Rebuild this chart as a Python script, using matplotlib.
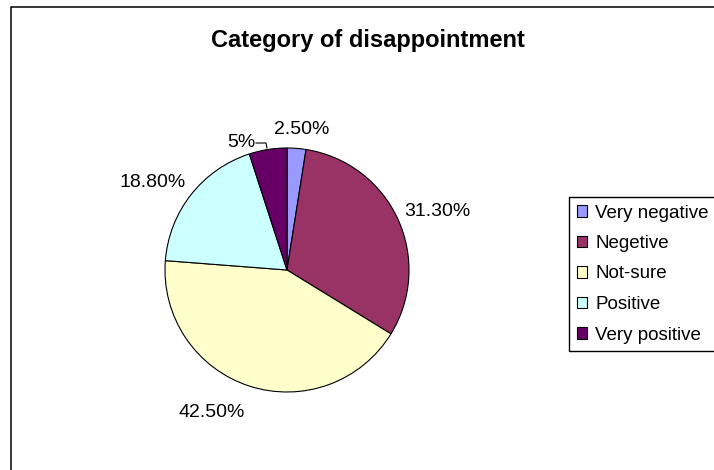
import matplotlib
matplotlib.use("Agg")
import matplotlib.pyplot as plt
from matplotlib.patches import Rectangle

# Data
categories = ["Very negative", "Negetive", "Not-sure", "Positive", "Very positive"]
shares = [2.5, 31.3, 42.5, 18.8, 5.0]
share_labels = ["2.50%", "31.30%", "42.50%", "18.80%", "5%"]
colors = ["#9999FF", "#993366", "#FFFFCC", "#CCFFFF", "#660066"]

# Label baseline positions (pie radius units) - layout only
label_pos = [(0.12, 1.115), (1.23, 0.443), (-0.615, -1.207), (-1.103, 0.678), (-0.377, 1.011)]

plt.rcParams["font.family"] = ["Liberation Sans", "DejaVu Sans"]

W, H = 714, 470
fig = plt.figure(figsize=(W / 100, H / 100), dpi=100)
fig.set_facecolor("white")

# outer chart frame (right/bottom edges fall outside the picture)
fig.add_artist(Rectangle((11 / W, -0.1), 1.2, 1 - 6.5 / H + 0.1, fill=False,
                         edgecolor="black", linewidth=1.1, transform=fig.transFigure))

cx, cy, r = 287, 270, 122
ax = fig.add_axes([(cx - r) / W, (H - cy - r) / H, 2 * r / W, 2 * r / H])
wedges, texts = ax.pie(shares, labels=share_labels, colors=colors, startangle=90,
                       counterclock=False, radius=1.0,
                       wedgeprops=dict(edgecolor="black", linewidth=0.8),
                       textprops=dict(fontsize=14, color="#000000"))
for t, (x, y) in zip(texts, label_pos):
    t.set_position((x, y))
    t.set_ha("center")
    t.set_va("baseline")

# leader line for the small "5%" slice
ax.plot([-0.254, -0.172, -0.164], [1.041, 1.041, 1.0], color="black", linewidth=0.8, clip_on=False)

ax.set_xlim(-1, 1)
ax.set_ylim(-1, 1)
ax.set_aspect("equal")
ax.axis("off")

fig.text(367.5 / W, 1 - 47 / H, "Category of disappointment", ha="center", va="baseline",
         fontsize=17, fontweight="bold", color="black")

leg = fig.legend(wedges, categories, loc="upper left", bbox_to_anchor=(569 / W, 1 - 197 / H),
                 borderaxespad=0, fontsize=13.5, frameon=True, fancybox=False, framealpha=1,
                 edgecolor="black", handlelength=0.55, handleheight=0.55, handletextpad=0.45,
                 labelspacing=0.72, borderpad=0.4)
leg.get_frame().set_linewidth(1.0)

fig.savefig("out.png", dpi=100, facecolor="white")
